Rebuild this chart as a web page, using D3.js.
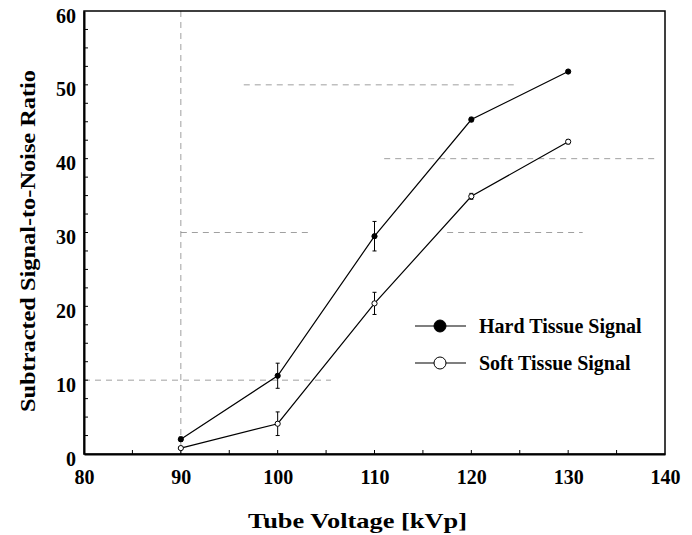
<!DOCTYPE html>
<html>
<head>
<meta charset="utf-8">
<script src="https://cdn.jsdelivr.net/npm/d3@7"></script>
<style>
  body { margin: 0; background: #fff; }
  text { font-family: "Liberation Serif", "Times New Roman", serif; font-weight: bold; }
</style>
</head>
<body>
<div id="chart"></div>
<script>
var width = 692,
    height = 535;

// data
var voltages = [90, 100, 110, 120, 130];
var hardSnr = [2.0, 10.6, 29.5, 45.3, 51.8];
var hardErr = [0.3, 1.7, 2.0, 0.3, 0.2];
var softSnr = [0.8, 4.1, 20.4, 34.9, 42.3];
var softErr = [0.2, 1.6, 1.5, 0.4, 0.3];
var xTicks = [80, 90, 100, 110, 120, 130, 140];
var yTicks = [0, 10, 20, 30, 40, 50, 60];

// dashed guide pieces [x0, x1, y]
var hGuides = [[80, 105.5, 10], [90, 103.5, 30], [117.5, 131.5, 30], [111, 139, 40], [96.5, 124.5, 50]];

var margin = {left: 84, right: 27, top: 11, bottom: 81};

var x = d3.scaleLinear().domain([80, 140]).range([margin.left, width - margin.right]);
var y = d3.scaleLinear().domain([0, 60]).range([height - margin.bottom, margin.top]);

var svg = d3.select("#chart")
    .append("svg")
    .attr("width", width)
    .attr("height", height);

// guides
svg.append("line")
    .attr("x1", x(90)).attr("x2", x(90))
    .attr("y1", y(60)).attr("y2", y(0))
    .style("stroke", "#888")
    .style("stroke-width", 0.8)
    .style("stroke-dasharray", "6,5");

svg.selectAll(".hguide")
    .data(hGuides)
    .enter().append("line")
    .attr("class", "hguide")
    .attr("x1", d => x(d[0])).attr("x2", d => x(d[1]))
    .attr("y1", d => y(d[2])).attr("y2", d => y(d[2]))
    .style("stroke", "#888")
    .style("stroke-width", 0.8)
    .style("stroke-dasharray", "6,5");

// frame
svg.append("rect")
    .attr("x", x(80)).attr("y", y(60))
    .attr("width", x(140) - x(80)).attr("height", y(0) - y(60))
    .style("fill", "none")
    .style("stroke", "#000")
    .style("stroke-width", 1.5);

// axes
var xAxis = svg.append("g")
    .attr("transform", "translate(0," + y(0) + ")")
    .call(d3.axisBottom(x).tickValues(xTicks).tickSize(0).tickPadding(16));
xAxis.select(".domain").style("stroke-width", 2);
xAxis.selectAll("text").style("font-size", "20px").attr("dy", "0.71em");

var yAxis = svg.append("g")
    .attr("transform", "translate(" + x(80) + ",0)")
    .call(d3.axisLeft(y).tickValues(yTicks).tickSize(0).tickPadding(8));
yAxis.select(".domain").style("stroke-width", 2);
yAxis.selectAll("text").style("font-size", "20px").attr("dy", "0.55em");

// minor ticks pointing inward
svg.selectAll(".xminor")
    .data(d3.range(85, 140, 5))
    .enter().append("line")
    .attr("x1", d => x(d)).attr("x2", d => x(d))
    .attr("y1", y(0)).attr("y2", y(0) - 4)
    .style("stroke", "#000");

svg.selectAll(".yminor")
    .data(d3.range(2.5, 60, 2.5))
    .enter().append("line")
    .attr("x1", x(80)).attr("x2", x(80) + 4)
    .attr("y1", d => y(d)).attr("y2", d => y(d))
    .style("stroke", "#000");

// axis titles
svg.append("text")
    .attr("x", 248)
    .attr("y", 528)
    .attr("textLength", 219)
    .attr("lengthAdjust", "spacingAndGlyphs")
    .style("font-size", "22px")
    .text("Tube Voltage [kVp]");

svg.append("text")
    .attr("transform", "translate(35,412) rotate(-90)")
    .attr("textLength", 342)
    .attr("lengthAdjust", "spacingAndGlyphs")
    .style("font-size", "22px")
    .text("Subtracted Signal-to-Noise Ratio");

// series
var series = [
    {name: "Hard Tissue Signal", values: hardSnr, err: hardErr, fill: "#000"},
    {name: "Soft Tissue Signal", values: softSnr, err: softErr, fill: "#fff"}
];

var line = d3.line()
    .x(d => x(d[0]))
    .y(d => y(d[1]));

series.forEach(function(s) {
    var pts = voltages.map((v, i) => [v, s.values[i], s.err[i]]);

    svg.append("path")
        .datum(pts)
        .attr("d", line)
        .style("fill", "none")
        .style("stroke", "#000")
        .style("stroke-width", 1.2);

    var eb = svg.append("g");
    pts.forEach(function(p) {
        eb.append("line")
            .attr("x1", x(p[0])).attr("x2", x(p[0]))
            .attr("y1", y(p[1] - p[2])).attr("y2", y(p[1] + p[2]))
            .style("stroke", "#000");
        [p[1] - p[2], p[1] + p[2]].forEach(function(v) {
            eb.append("line")
                .attr("x1", x(p[0]) - 2).attr("x2", x(p[0]) + 2)
                .attr("y1", y(v)).attr("y2", y(v))
                .style("stroke", "#000");
        });
    });

    svg.selectAll(null)
        .data(pts)
        .enter().append("circle")
        .attr("cx", d => x(d[0]))
        .attr("cy", d => y(d[1]))
        .attr("r", 2.6)
        .style("fill", s.fill)
        .style("stroke", "#000")
        .style("stroke-width", 1);
});

// legend
var legend = svg.append("g").attr("transform", "translate(415,326)");
series.forEach(function(s, i) {
    var row = legend.append("g").attr("transform", "translate(0," + i * 37 + ")");
    row.append("line")
        .attr("x1", 0).attr("x2", 51)
        .style("stroke", "#000")
        .style("stroke-width", 1.2);
    row.append("circle")
        .attr("cx", 25).attr("r", 6)
        .style("fill", s.fill)
        .style("stroke", "#000")
        .style("stroke-width", 1);
    row.append("text")
        .attr("x", 64).attr("y", 7)
        .style("font-size", "20px")
        .text(s.name);
});
</script>
</body>
</html>
